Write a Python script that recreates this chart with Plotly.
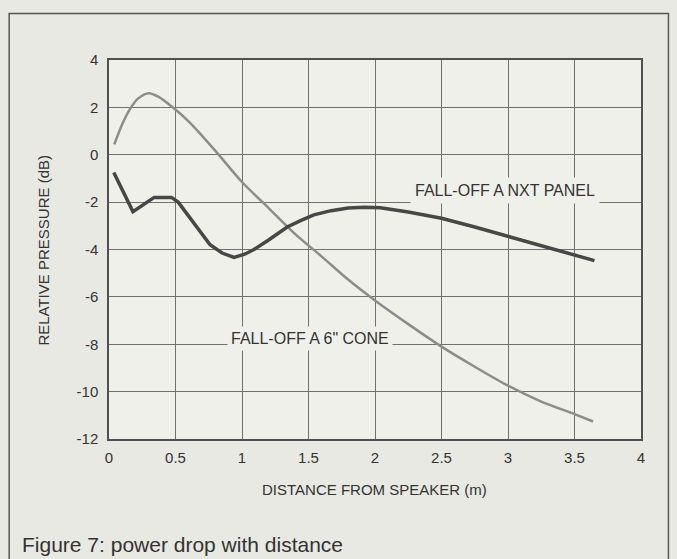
import plotly.graph_objects as go

# Data
cone_x = [0.04, 0.10, 0.16, 0.22, 0.30, 0.37, 0.49, 0.60, 0.70, 0.81, 1.00, 1.20, 1.40, 1.60, 1.80, 2.00, 2.25, 2.50, 2.75, 3.00, 3.25, 3.50, 3.64]
cone_y = [0.44, 1.30, 1.95, 2.38, 2.60, 2.45, 1.95, 1.40, 0.80, 0.10, -1.15, -2.25, -3.35, -4.30, -5.28, -6.15, -7.15, -8.10, -8.95, -9.75, -10.42, -10.95, -11.26]

nxt_x = [0.036, 0.18, 0.34, 0.47, 0.52, 0.76, 0.85, 0.94, 1.02, 1.09, 1.20, 1.34, 1.44, 1.54, 1.67, 1.80, 1.92, 2.04, 2.25, 2.50, 2.75, 3.00, 3.25, 3.50, 3.65]
nxt_y = [-0.75, -2.40, -1.80, -1.80, -2.00, -3.80, -4.15, -4.33, -4.20, -4.00, -3.60, -3.05, -2.78, -2.54, -2.36, -2.25, -2.22, -2.24, -2.42, -2.68, -3.05, -3.45, -3.85, -4.22, -4.47]

x_ticks = [0, 0.5, 1, 1.5, 2, 2.5, 3, 3.5, 4]
x_labels = ["0", "0.5", "1", "1.5", "2", "2.5", "3", "3.5", "4"]
y_ticks = [4, 2, 0, -2, -4, -6, -8, -10, -12]
y_labels = ["4", "2", "0", "-2", "-4", "-6", "-8", "-10", "-12"]

NARROW = "Liberation Sans Narrow, Arial Narrow, Liberation Sans, Arial, sans-serif"
REG = "Liberation Sans, Arial, Helvetica, sans-serif"
PAPER = "#e9e9e4"
PLOTBG = "#f0f0ea"
TXT = "#333333"

fig = go.Figure()
fig.add_trace(go.Scatter(x=cone_x, y=cone_y, mode="lines",
                         line=dict(color="#8c8c8c", width=2.5, shape="spline", smoothing=0.8),
                         showlegend=False, hoverinfo="skip"))
fig.add_trace(go.Scatter(x=nxt_x, y=nxt_y, mode="lines",
                         line=dict(color="#474747", width=3.5),
                         showlegend=False, hoverinfo="skip"))

W, H = 677, 559
L, R, T, B = 108.5, 641.5, 60, 439
pw, ph = R - L, B - T

def px(xp):
    return (xp - L) / pw

def py(yp):
    return (B - yp) / ph

fig.update_layout(
    width=W, height=H,
    margin=dict(l=L, r=W - R, t=T, b=H - B, pad=0),
    paper_bgcolor=PAPER, plot_bgcolor=PLOTBG,
    font=dict(family=NARROW, color=TXT),
    xaxis=dict(range=[0, 4], tickvals=x_ticks, ticktext=x_labels,
               showgrid=True, gridcolor="#707070", gridwidth=1,
               zeroline=False, showline=True, linecolor="#505050", linewidth=1.5, mirror=True,
               ticks="", ticklabelstandoff=4, tickfont=dict(size=15, family=NARROW, color=TXT)),
    yaxis=dict(range=[-12, 4], tickvals=y_ticks, ticktext=y_labels,
               showgrid=True, gridcolor="#707070", gridwidth=1,
               zeroline=False, showline=True, linecolor="#505050", linewidth=1.5, mirror=True,
               ticks="", ticklabelstandoff=6, tickfont=dict(size=15, family=NARROW, color=TXT)),
)

# outer frame of the figure
fig.add_shape(type="rect", xref="paper", yref="paper",
              x0=px(8.5), x1=px(669), y0=py(575), y1=py(13.5),
              line=dict(color="#555555", width=1.5), fillcolor="rgba(0,0,0,0)", layer="below")

# series labels (with background to hide gridlines, as in the reference)
fig.add_annotation(x=2.98, y=-1.50, xref="x", yref="y", text="FALL-OFF A NXT PANEL",
                   showarrow=False, font=dict(size=16, family=NARROW, color=TXT),
                   bgcolor=PLOTBG, borderpad=4, xanchor="center", yanchor="middle")
fig.add_annotation(x=1.515, y=-7.77, xref="x", yref="y", text="FALL-OFF A 6\" CONE",
                   showarrow=False, font=dict(size=16, family=NARROW, color=TXT),
                   bgcolor=PLOTBG, borderpad=3, xanchor="center", yanchor="middle")

# axis titles
fig.add_annotation(x=px(374.5), y=py(489), xref="paper", yref="paper",
                   text="DISTANCE FROM SPEAKER (m)", showarrow=False,
                   font=dict(size=15, family=NARROW, color=TXT),
                   xanchor="center", yanchor="middle")
fig.add_annotation(x=px(42), y=py(250), xref="paper", yref="paper",
                   text="RELATIVE PRESSURE (dB)", showarrow=False, textangle=-90,
                   font=dict(size=15, family=NARROW, color=TXT),
                   xanchor="center", yanchor="middle")

# figure caption
fig.add_annotation(x=px(19), y=py(544), xref="paper", yref="paper",
                   text="Figure 7: power drop with distance", showarrow=False,
                   font=dict(size=21, family=REG, color=TXT),
                   xanchor="left", yanchor="middle")

fig.write_html(
    "out.html",
    config={"displayModeBar": False},
    post_script="document.body.style.margin='0';document.body.style.background='%s';"
                "document.body.style.overflow='hidden';" % PAPER,
)
